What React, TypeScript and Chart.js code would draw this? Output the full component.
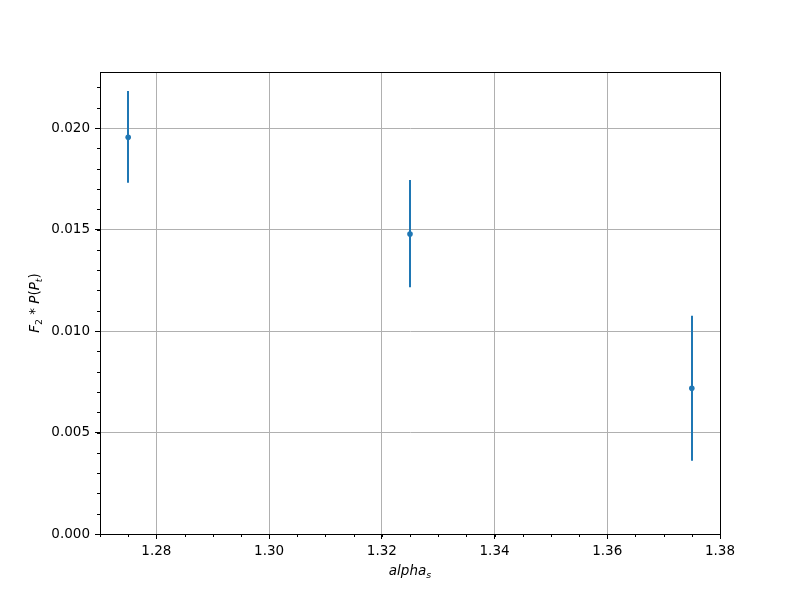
import React, { useEffect, useRef } from "react";
import { Chart, registerables } from "chart.js";

Chart.register(...registerables);

const alphaValues = [1.275, 1.325, 1.375];
const yValues = [0.01954, 0.01478, 0.00718];
const yErrUpper = [0.02182, 0.01744, 0.01075];
const yErrLower = [0.01731, 0.01215, 0.00361];
const xTickValues = [1.28, 1.3, 1.32, 1.34, 1.36, 1.38];
const yTickValues = [0, 0.005, 0.01, 0.015, 0.02];
const xMinorStep = 0.005;
const yMinorStep = 0.001;

const COLOR = "#1f77b4";
const FONT = "DejaVu Sans";
const FS = 13.5;

type Piece = { t: string; italic?: boolean; sub?: boolean };

function drawMath(ctx: CanvasRenderingContext2D, pieces: Piece[], cx: number, cy: number, rot: number) {
  ctx.save();
  ctx.translate(cx, cy);
  ctx.rotate(rot);
  const fontFor = (p: Piece) =>
    `${p.italic ? "italic " : ""}${p.sub ? FS * 0.7 : FS}px "${FONT}"`;
  let total = 0;
  const widths = pieces.map((p) => {
    ctx.font = fontFor(p);
    const w = ctx.measureText(p.t).width;
    total += w;
    return w;
  });
  let x = -total / 2;
  ctx.fillStyle = "#000";
  ctx.textBaseline = "middle";
  ctx.textAlign = "left";
  pieces.forEach((p, i) => {
    ctx.font = fontFor(p);
    ctx.fillText(p.t, x, p.sub ? FS * 0.3 : 0);
    x += widths[i];
  });
  ctx.restore();
}

const customPlugin = {
  id: "custom",
  beforeDatasetsDraw(chart: any) {
    const { ctx, scales } = chart;
    const xs = scales.x;
    const ys = scales.y;
    ctx.save();
    ctx.strokeStyle = COLOR;
    ctx.lineWidth = 2;
    alphaValues.forEach((a, i) => {
      const px = Math.round(xs.getPixelForValue(a));
      ctx.beginPath();
      ctx.moveTo(px, ys.getPixelForValue(yErrUpper[i]));
      ctx.lineTo(px, ys.getPixelForValue(yErrLower[i]));
      ctx.stroke();
    });
    ctx.restore();
  },
  afterDraw(chart: any) {
    const { ctx, scales, chartArea } = chart;
    const xs = scales.x;
    const ys = scales.y;
    ctx.save();
    ctx.strokeStyle = "#000";
    ctx.lineWidth = 1;
    // minor ticks
    for (let v = xs.min; v <= xs.max + 1e-9; v += xMinorStep) {
      const px = Math.round(xs.getPixelForValue(v)) + 0.5;
      ctx.beginPath();
      ctx.moveTo(px, chartArea.bottom);
      ctx.lineTo(px, chartArea.bottom + 3);
      ctx.stroke();
    }
    for (let v = ys.min; v <= ys.max + 1e-9; v += yMinorStep) {
      const py = Math.round(ys.getPixelForValue(v)) + 0.5;
      ctx.beginPath();
      ctx.moveTo(chartArea.left, py);
      ctx.lineTo(chartArea.left - 3, py);
      ctx.stroke();
    }
    // frame
    ctx.strokeRect(
      Math.round(chartArea.left) + 0.5,
      Math.round(chartArea.top) + 0.5,
      Math.round(chartArea.right - chartArea.left),
      Math.round(chartArea.bottom - chartArea.top)
    );
    ctx.restore();
    // axis titles
    const cx = (chartArea.left + chartArea.right) / 2;
    const cy = (chartArea.top + chartArea.bottom) / 2;
    drawMath(ctx, [{ t: "alpha", italic: true }, { t: "s", italic: true, sub: true }], cx, 571, 0);
    drawMath(
      ctx,
      [
        { t: "F", italic: true },
        { t: "2", sub: true },
        { t: " * " },
        { t: "P", italic: true },
        { t: "(" },
        { t: "P", italic: true },
        { t: "t", italic: true, sub: true },
        { t: ")" },
      ],
      35,
      cy,
      -Math.PI / 2
    );
  },
};

export default function App() {
  const ref = useRef<HTMLCanvasElement>(null);
  useEffect(() => {
    const canvas = ref.current!;
    const chart = new Chart(canvas, {
      type: "scatter",
      data: {
        datasets: [
          {
            data: alphaValues.map((a, i) => ({ x: a, y: yValues[i] })),
            backgroundColor: COLOR,
            borderColor: COLOR,
            pointRadius: 2.8,
            pointBorderWidth: 0,
          },
        ],
      },
      options: {
        responsive: false,
        animation: false,
        events: [],
        layout: { padding: { top: 72, right: 80, left: 0, bottom: 0 } },
        plugins: { legend: { display: false }, tooltip: { enabled: false } },
        scales: {
          x: {
            type: "linear",
            min: 1.27,
            max: 1.38,
            afterFit: (s: any) => {
              s.height = 66;
            },
            afterBuildTicks: (s: any) => {
              s.ticks = xTickValues.map((v) => ({ value: v }));
            },
            grid: { color: "#b0b0b0", lineWidth: 1, tickColor: "#000", tickLength: 5 },
            border: { color: "#000", width: 1 },
            ticks: {
              color: "#000",
              padding: 4,
              maxRotation: 0,
              font: { family: FONT, size: FS },
              callback: (v: any) => Number(v).toFixed(2),
            },
          },
          y: {
            type: "linear",
            min: 0,
            max: 0.02276,
            afterFit: (s: any) => {
              s.width = 100;
            },
            afterBuildTicks: (s: any) => {
              s.ticks = yTickValues.map((v) => ({ value: v }));
            },
            grid: { color: "#b0b0b0", lineWidth: 1, tickColor: "#000", tickLength: 5 },
            border: { color: "#000", width: 1 },
            ticks: {
              color: "#000",
              padding: 5,
              font: { family: FONT, size: FS },
              callback: (v: any) => Number(v).toFixed(3),
            },
          },
        },
      },
      plugins: [customPlugin],
    } as any);
    return () => chart.destroy();
  }, []);
  return (
    <div style={{ position: "fixed", left: 0, top: 0, width: 800, height: 600, background: "#fff" }}>
      <canvas ref={ref} width={800} height={600} />
    </div>
  );
}
